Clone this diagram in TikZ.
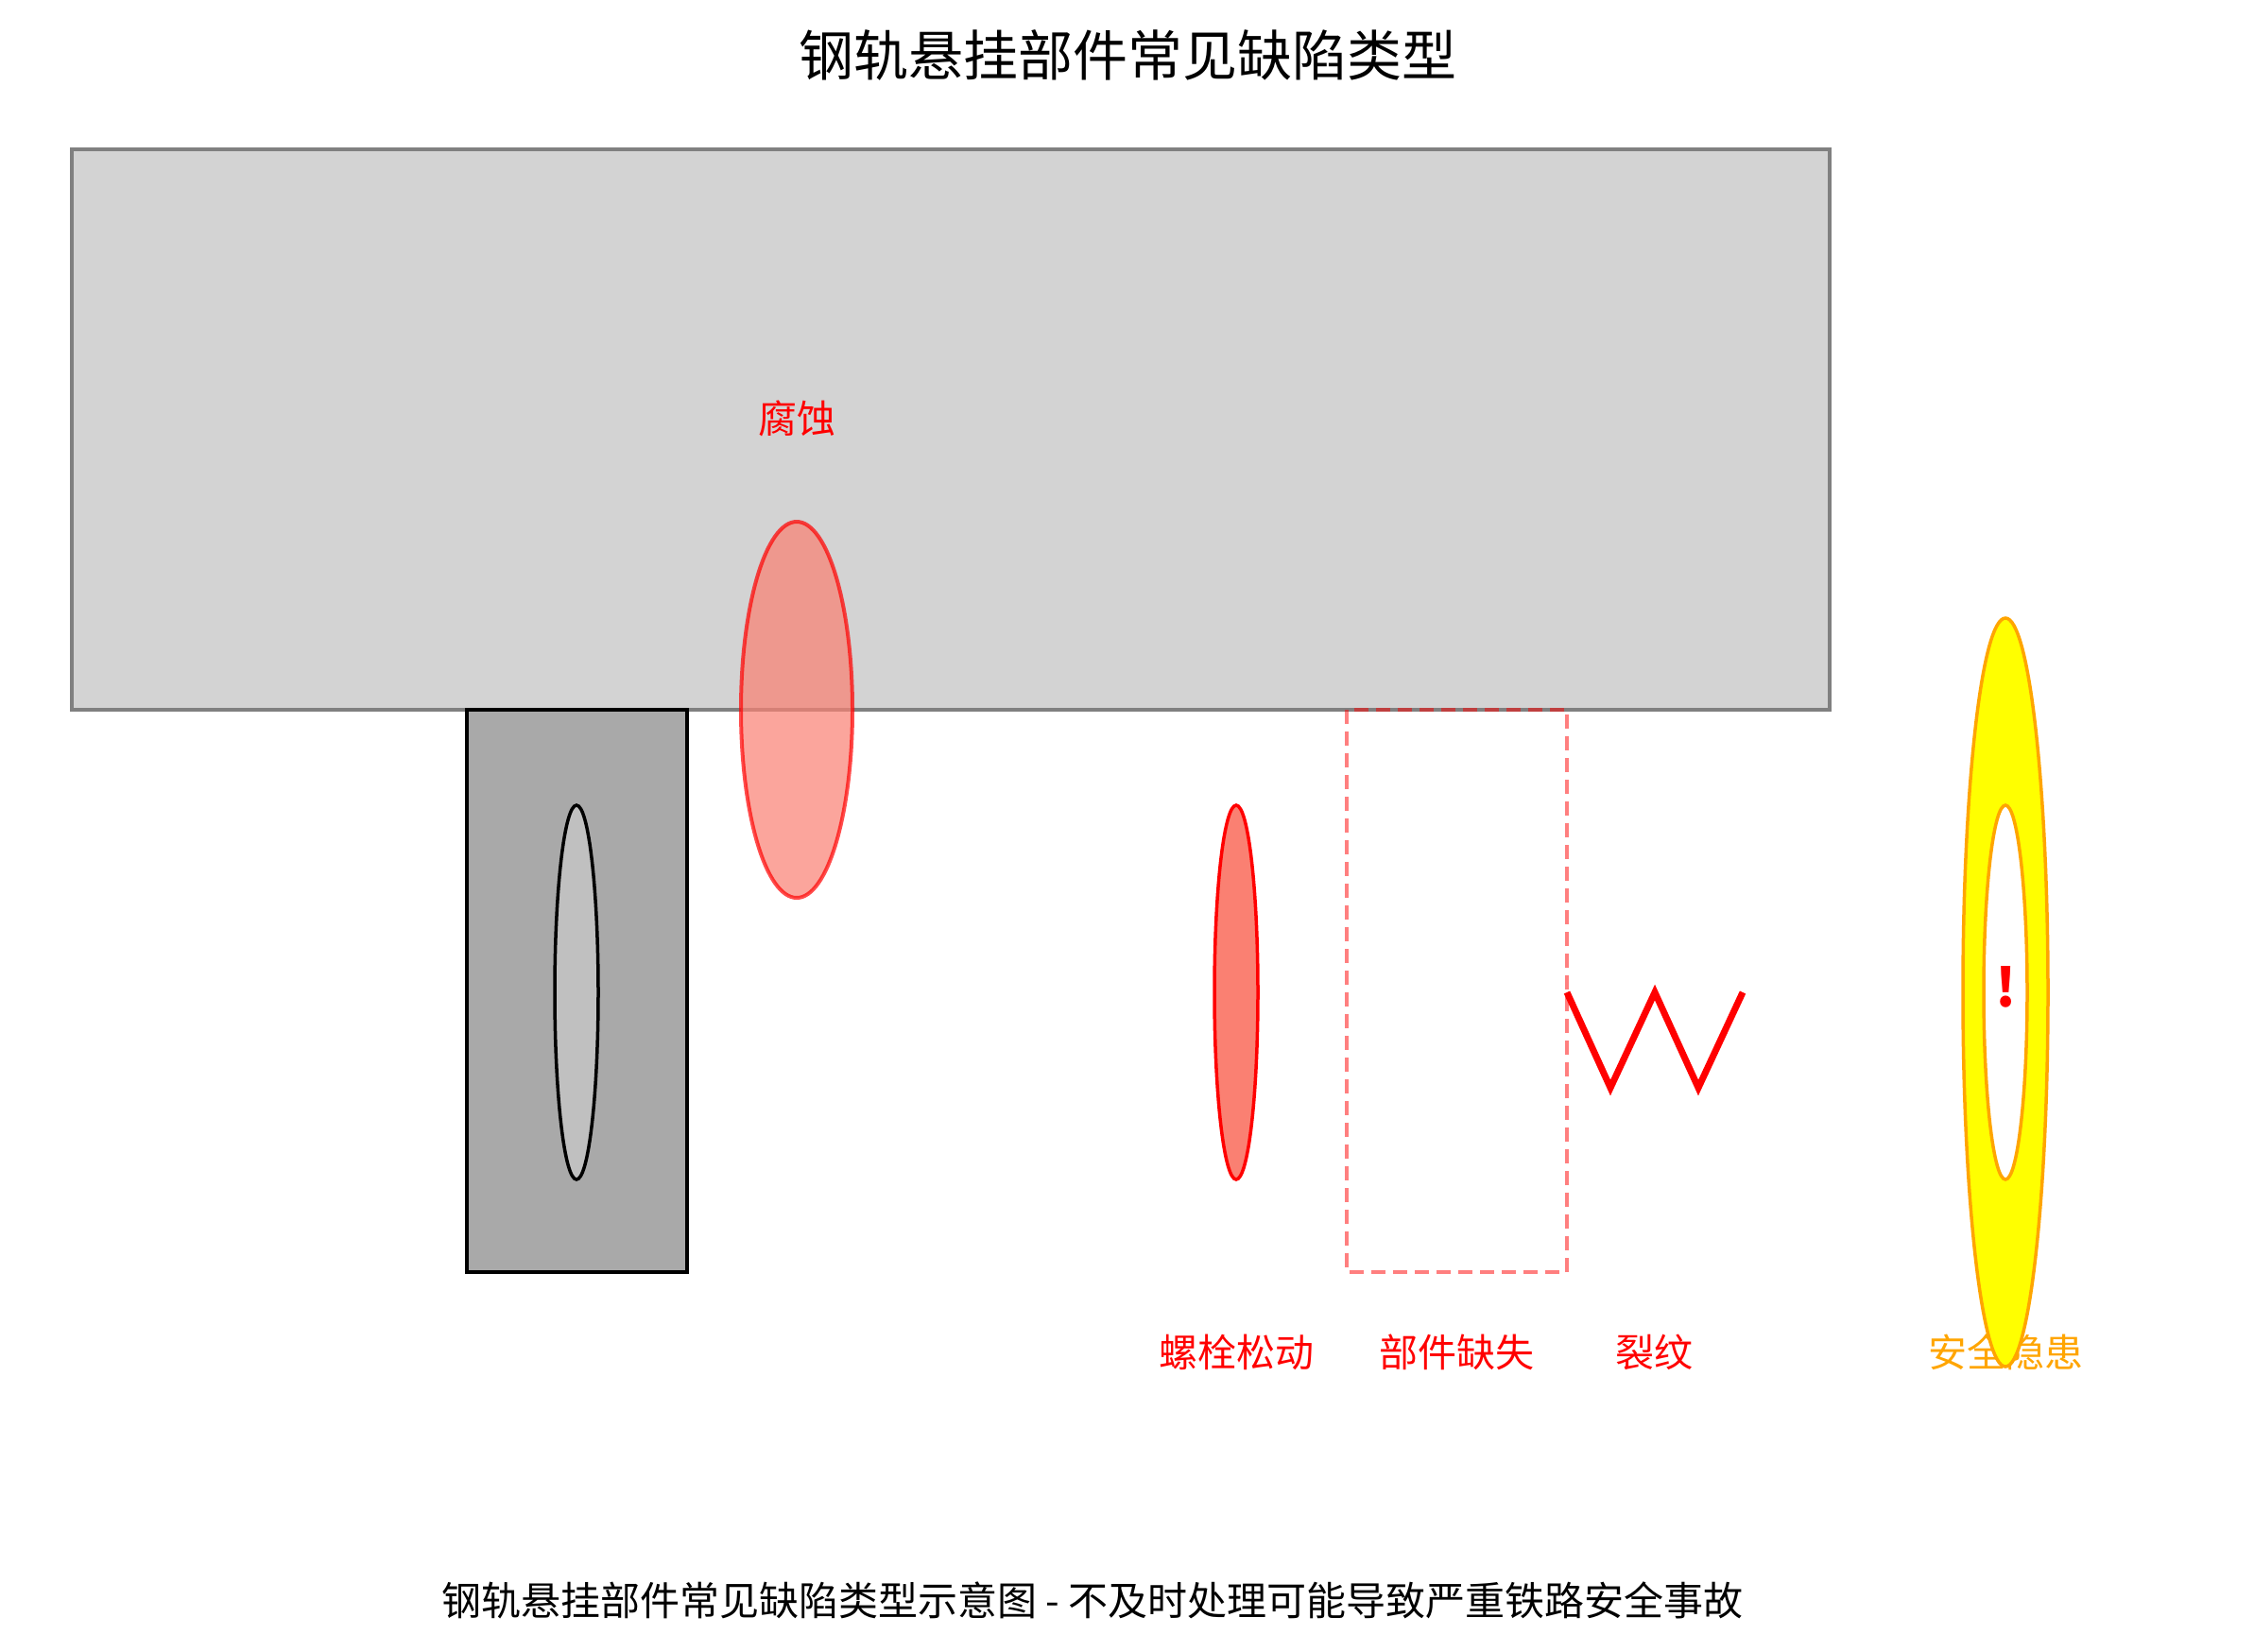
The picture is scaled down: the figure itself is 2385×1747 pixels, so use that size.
\documentclass[tikz,border=0pt]{standalone}
\usepackage{fontspec}
\setmainfont{Noto Sans CJK SC}
\definecolor{cLight}{HTML}{D3D3D3}
\definecolor{cGray}{HTML}{808080}
\definecolor{cDark}{HTML}{A9A9A9}
\definecolor{cSilver}{HTML}{C0C0C0}
\definecolor{cSalmon}{HTML}{FA8072}
\definecolor{cRed}{HTML}{FF0000}
\definecolor{cOrange}{HTML}{FFA500}
\definecolor{cYellow}{HTML}{FFFF00}
\tikzset{
  lbl/.style={inner sep=0pt, anchor=center, font=\fontsize{41bp}{49bp}\selectfont},
  titlelbl/.style={inner sep=0pt, anchor=center, font=\fontsize{58bp}{68bp}\selectfont},
  footlbl/.style={inner sep=0pt, anchor=center, font=\fontsize{42bp}{50bp}\selectfont},
}
\begin{document}
\begin{tikzpicture}[x=1bp,y=-1bp]
\useasboundingbox[fill=white] (0,0) rectangle (2385,1747);
% title
\node[titlelbl] (title) at (1193,58) {钢轨悬挂部件常见缺陷类型};
% rail body
\draw[fill=cLight, draw=cGray, line width=4bp] (76,158) rectangle (1936,751);
% hanger
\draw[fill=cDark, draw=black, line width=4.5bp] (494,751) rectangle (727,1346);
\draw[fill=cSilver, draw=black, line width=3.5bp] (610,1050) ellipse [x radius=23, y radius=198];
% corrosion
\node[lbl, text=cRed] (corr) at (843,443) {腐蚀};
\draw[fill=cSalmon, draw=cRed, line width=4bp, opacity=0.7] (843,751) ellipse [x radius=59, y radius=199];
% loose bolt
\draw[fill=cSalmon, draw=cRed, line width=3.5bp] (1308,1050) ellipse [x radius=23, y radius=198];
% missing component
\draw[draw=cRed, draw opacity=0.5, line width=3.5bp, dash pattern=on 15bp off 8bp] (1425,751) rectangle (1658,1346);
% crack
\draw[cRed, line width=7bp, line join=miter] (1658,1050) -- (1704,1151) -- (1751,1050) -- (1797,1151) -- (1844,1050);
% labels
\node[lbl, text=cRed] (bolt) at (1308,1431) {螺栓松动};
\node[lbl, text=cRed] (miss) at (1541,1431) {部件缺失};
\node[lbl, text=cRed] (crack) at (1750,1431) {裂纹};
\node[lbl, text=cOrange] (hazard) at (2122,1431) {安全隐患};
% hazard
\draw[fill=cYellow, draw=cOrange, line width=3.5bp] (2122,1050) ellipse [x radius=45, y radius=396];
\draw[fill=white, draw=cOrange, line width=3.5bp] (2122,1050) ellipse [x radius=23, y radius=198];
\node[inner sep=0pt, text=cRed, font=\fontsize{56bp}{60bp}\selectfont\bfseries] (excl) at (2123,1044) {!};
% footer
\node[footlbl] (foot) at (1156,1693) {钢轨悬挂部件常见缺陷类型示意图 - 不及时处理可能导致严重铁路安全事故};
\end{tikzpicture}
\end{document}
